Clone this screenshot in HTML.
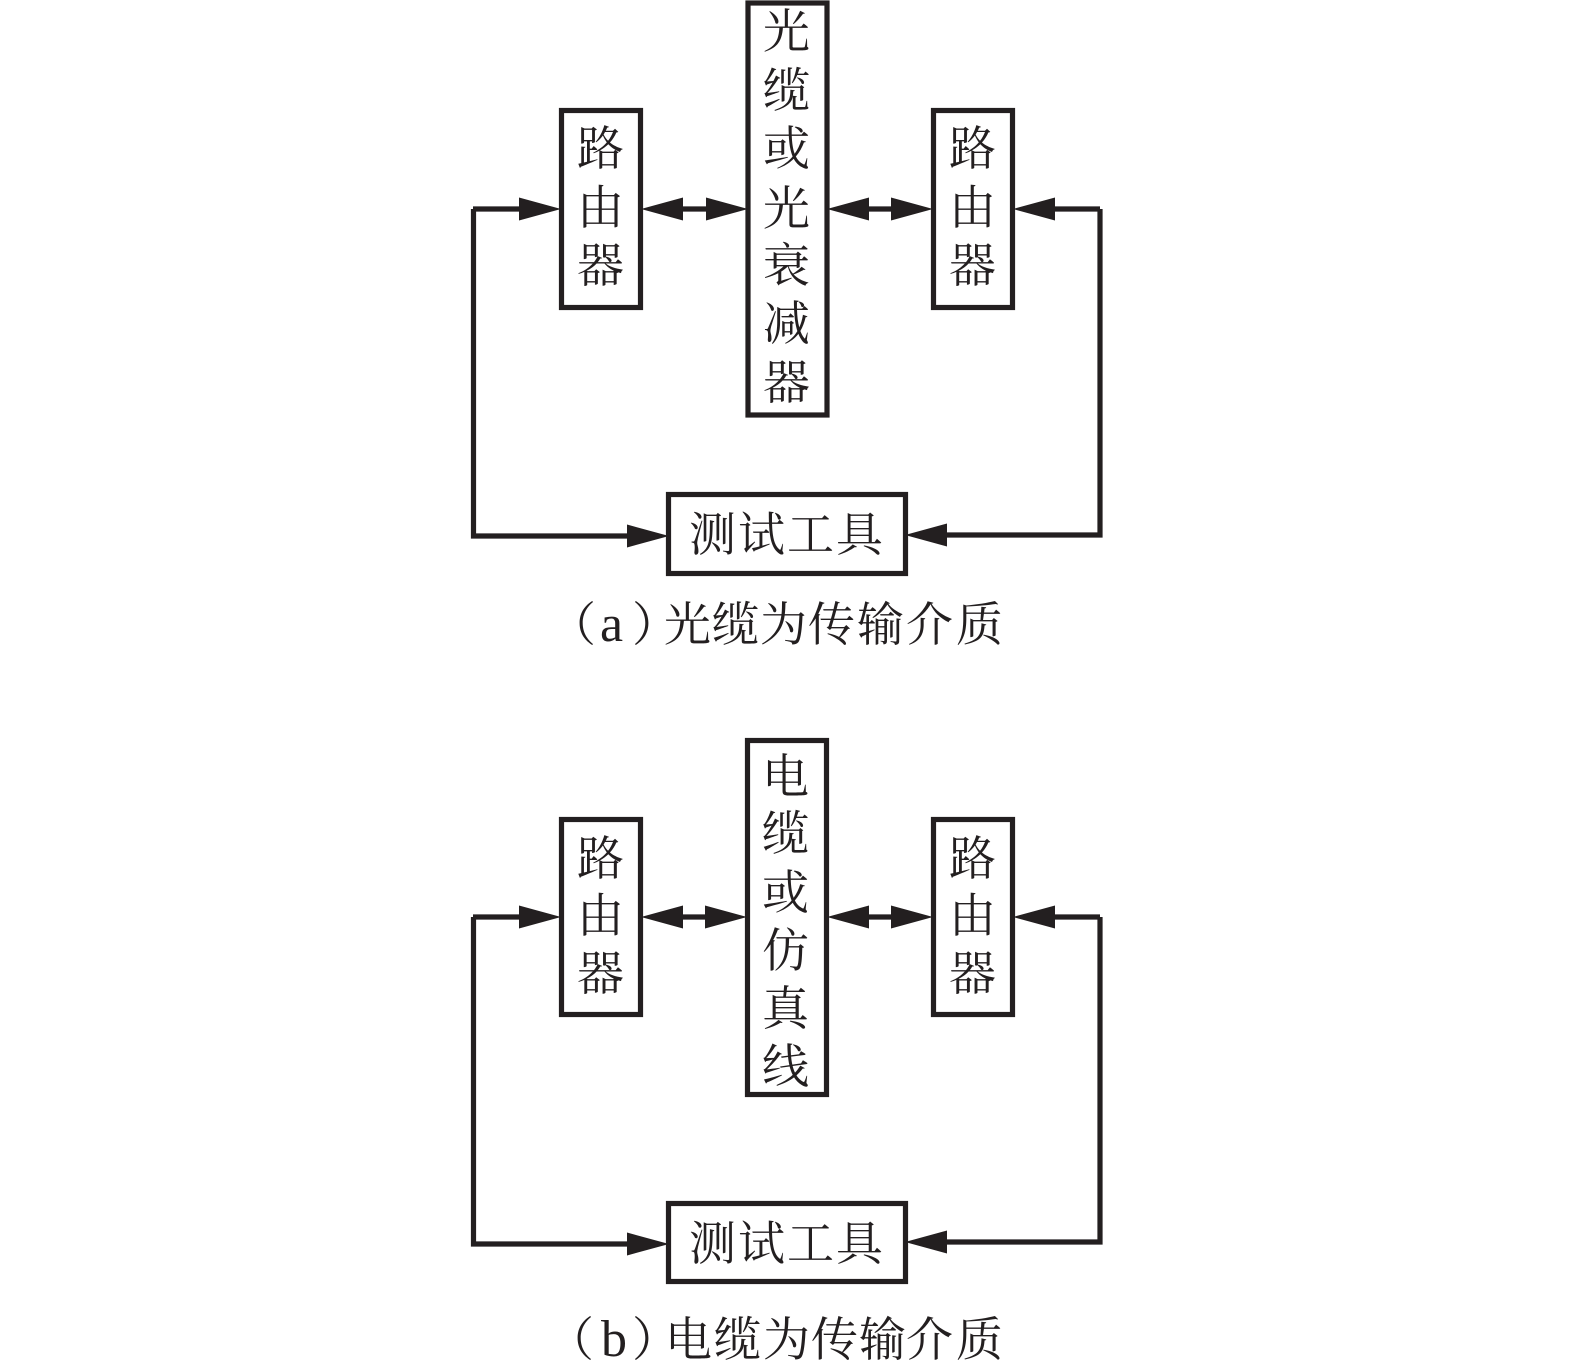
<!DOCTYPE html>
<html><head><meta charset="utf-8"><style>html,body{margin:0;padding:0;background:#fff}svg{display:block}text{font-family:"Liberation Serif","Noto Serif CJK SC",serif;font-size:47px;fill:#231f20}text.l{font-size:52px}</style></head><body>
<svg width="1575" height="1371" viewBox="0 0 1575 1371" xmlns="http://www.w3.org/2000/svg">
<rect width="1575" height="1371" fill="#fff"/>
<g fill="none" stroke="#231f20" stroke-width="5.2">
<rect x="561.5" y="110.5" width="79" height="197"/>
<rect x="933.5" y="110.5" width="79" height="197"/>
<rect x="748" y="3" width="79" height="412"/>
<rect x="668.5" y="494.5" width="237" height="79"/>
<path d="M473.5 209V536H640M1100 209V535H935M530 209H473M1100 209H1040M670 209H720M855 209H905"/>
<rect x="561.5" y="819.5" width="79" height="195"/>
<rect x="933.5" y="819.5" width="79" height="195"/>
<rect x="747.5" y="740.5" width="79" height="354"/>
<rect x="668.5" y="1203.5" width="237" height="78"/>
<path d="M473.5 917V1244H640M1100 917V1242H935M530 917H473M1100 917H1040M670 917H720M855 917H905"/>
</g>
<g fill="#231f20">
<path d="M561 209l-42-11.500v23zM641 209l42-11.500v23zM748 209l-42-11.500v23zM827 209l42-11.500v23zM933 209l-42-11.500v23zM1013 209l42-11.500v23z"/>
<path d="M669 536l-42-11.500v23zM905 535l42-11.500v23z"/>
<path d="M561 917l-42-11.500v23zM641 917l42-11.500v23zM747 917l-42-11.500v23zM827 917l42-11.500v23zM933 917l-42-11.500v23zM1013 917l42-11.500v23z"/>
<path d="M669 1244l-42-11.500v23zM905 1242l42-11.500v23z"/>
</g>
<text x="577" y="165">路</text><text x="577" y="224">由</text><text x="577" y="282">器</text>
<text x="949" y="165">路</text><text x="949" y="224">由</text><text x="949" y="282">器</text>
<text x="763" y="48">光</text><text x="763" y="107">缆</text><text x="763" y="165">或</text><text x="763" y="225">光</text><text x="763" y="282">衰</text><text x="763" y="340">减</text><text x="763" y="399">器</text>
<text x="689" y="551">测</text><text x="738" y="551">试</text><text x="787" y="551">工</text><text x="836" y="551">具</text>
<text x="549" y="641">（</text><text class="l" x="600" y="641">a</text><text x="632" y="641">）</text>
<text x="664" y="641">光</text><text x="712" y="641">缆</text><text x="760" y="641">为</text><text x="808" y="641">传</text><text x="857" y="641">输</text><text x="906" y="641">介</text><text x="956" y="641">质</text>
<text x="577" y="875">路</text><text x="577" y="932">由</text><text x="577" y="990">器</text>
<text x="949" y="875">路</text><text x="949" y="932">由</text><text x="949" y="990">器</text>
<text x="762" y="793">电</text><text x="762" y="850">缆</text><text x="762" y="909">或</text><text x="762" y="967">仿</text><text x="762" y="1025">真</text><text x="762" y="1083">线</text>
<text x="689" y="1260">测</text><text x="738" y="1260">试</text><text x="787" y="1260">工</text><text x="836" y="1260">具</text>
<text x="547" y="1356">（</text><text class="l" x="601" y="1356">b</text><text x="632" y="1356">）</text>
<text x="665" y="1356">电</text><text x="714" y="1356">缆</text><text x="763" y="1356">为</text><text x="811" y="1356">传</text><text x="859" y="1356">输</text><text x="906" y="1356">介</text><text x="956" y="1356">质</text>
</svg>
</body></html>
